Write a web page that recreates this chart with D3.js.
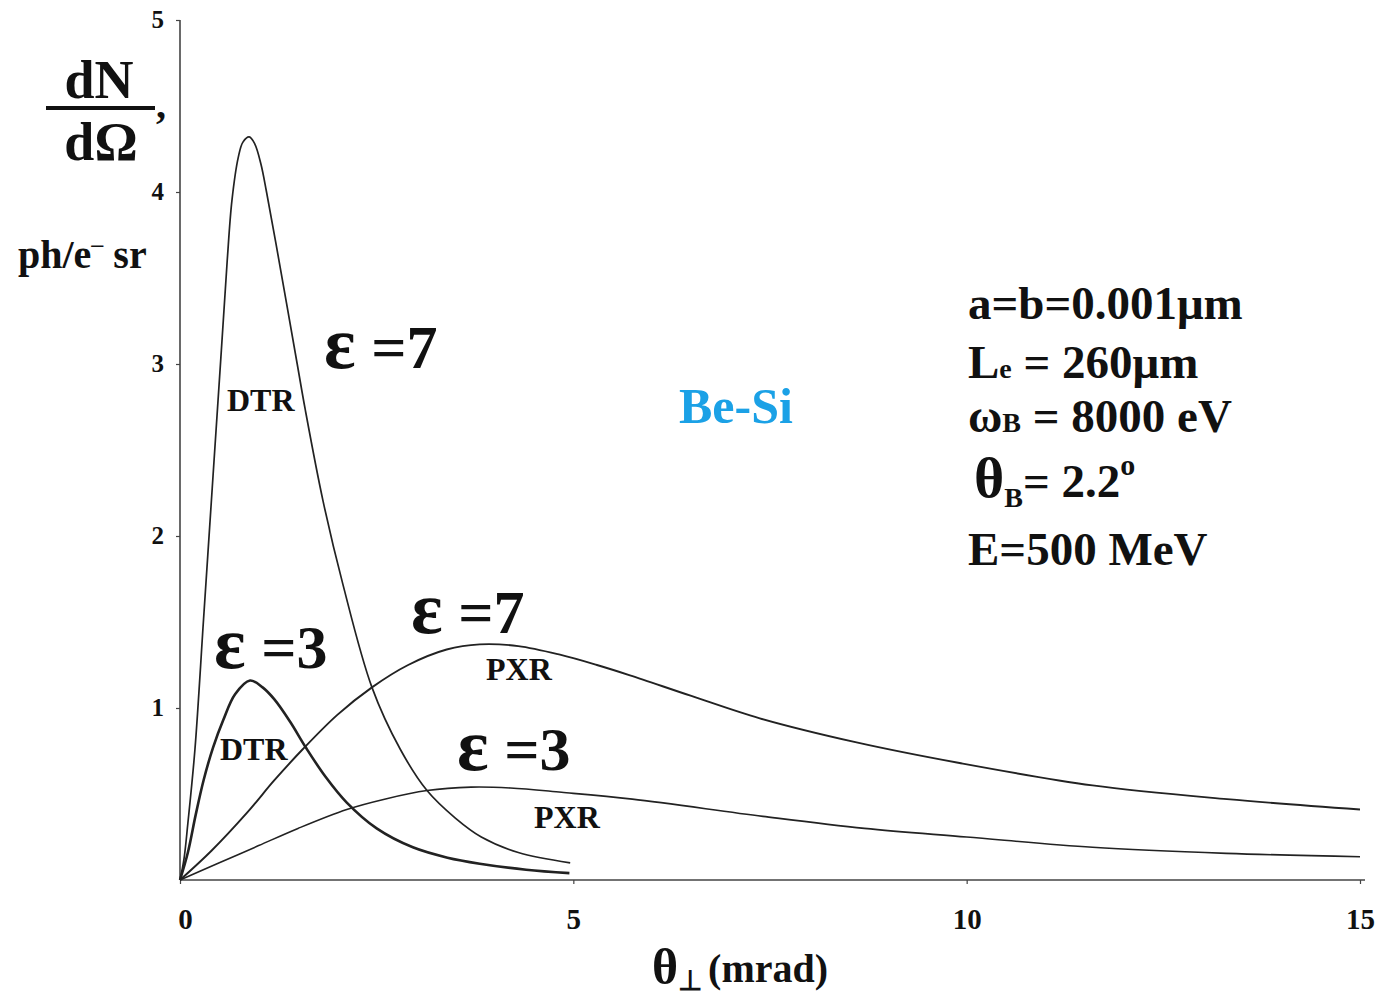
<!DOCTYPE html>
<html>
<head>
<meta charset="utf-8">
<script src="https://cdn.jsdelivr.net/npm/d3@7"></script>
<style>
  body { margin: 0; background: #fff; }
  text { font-family: "Liberation Serif", "Times New Roman", serif; font-weight: bold; fill: #111; }
</style>
</head>
<body>
<div id="chart"></div>
<script>
// curve points: [theta (mrad), dN/dOmega]
var dtr7 = [[0,0],[0.05,0.12],[0.1,0.33],[0.19,0.76],[0.3,1.52],[0.42,2.35],[0.52,3.04],[0.6,3.6],
  [0.66,3.95],[0.74,4.2],[0.8,4.29],[0.88,4.32],[0.95,4.28],[1.03,4.16],[1.1,4.0],[1.22,3.7],
  [1.49,3.0],[1.59,2.74],[1.82,2.2],[2.07,1.72],[2.44,1.12],[2.8,0.76],[3.14,0.52],[3.5,0.36],
  [3.83,0.25],[4.3,0.16],[4.96,0.1]];
var dtr3 = [[0,0],[0.1,0.16],[0.2,0.38],[0.3,0.58],[0.42,0.77],[0.55,0.93],[0.7,1.08],[0.89,1.16],
  [1.05,1.12],[1.2,1.05],[1.4,0.92],[1.6,0.77],[1.85,0.6],[2.12,0.45],[2.5,0.3],[2.96,0.19],[3.4,0.13],
  [3.81,0.095],[4.4,0.06],[4.95,0.04]];
var pxr7 = [[0,0],[0.4,0.17],[0.85,0.39],[1.2,0.58],[1.56,0.76],[2,0.96],[2.44,1.12],[2.9,1.25],
  [3.39,1.34],[3.81,1.37],[4.3,1.36],[4.83,1.31],[5.3,1.25],[5.72,1.19],[6.5,1.07],[7.37,0.94],[8.6,0.8],
  [9.91,0.68],[11.6,0.55],[13.31,0.47],[15,0.41]];
var pxr3 = [[0,0],[0.5,0.1],[1,0.2],[1.5,0.3],[2.12,0.41],[2.6,0.47],[3.14,0.52],[3.7,0.54],
  [4.2,0.535],[4.85,0.51],[5.75,0.47],[7.41,0.37],[8.7,0.3],[10,0.25],[11.6,0.19],[13.3,0.155],[15,0.135]];

var xTicks = [0, 5, 10, 15];
var yTicks = [1, 2, 3, 4, 5];
var params = ["a=b=0.001\u03bcm", "L|e| = 260\u03bcm", "\u03c9|B| = 8000 eV", "\u03b8|B|= 2.2|o", "E=500 MeV"];

var W = 1381, H = 997;
var svg = d3.select("#chart").append("svg")
    .attr("width", W)
    .attr("height", H);

var x = d3.scaleLinear().domain([0, 15]).range([180, 1360]);
var y = d3.scaleLinear().domain([0, 5]).range([880, 20]);

// axes
var xAxis = svg.append("g")
    .attr("transform", "translate(0," + y(0) + ")")
    .call(d3.axisBottom(x).tickValues(xTicks).tickFormat(d3.format("d"))
      .tickSize(4).tickSizeOuter(0).tickPadding(24));
var yAxis = svg.append("g")
    .attr("transform", "translate(" + x(0) + ",0)")
    .call(d3.axisLeft(y).tickValues(yTicks).tickFormat(d3.format("d"))
      .tickSize(4).tickSizeOuter(0).tickPadding(12));

[xAxis, yAxis].forEach(function(a) {
  a.select(".domain").attr("stroke", "#444").attr("stroke-width", 1.6);
  a.selectAll(".tick line").attr("stroke", "#444").attr("stroke-width", 1.2);
  a.selectAll(".tick text")
    .attr("font-family", '"Liberation Serif", serif')
    .attr("font-weight", "bold")
    .attr("fill", "#111");
});
xAxis.selectAll(".tick text").style("font-size", "29px");
yAxis.selectAll(".tick text").style("font-size", "25px").attr("dy", "0.3em");
xAxis.select(".domain").attr("d", "M" + x(0) + ",0H" + (x(15) + 5));
xAxis.selectAll(".tick text").filter(function(d) { return d === 0; }).attr("dx", 5);
yAxis.select(".domain").attr("d", "M0," + y(0) + "V" + y(5));

// curves
var line = d3.line()
    .x(function(d) { return x(d[0]); })
    .y(function(d) { return y(d[1]); })
    .curve(d3.curveCatmullRom.alpha(0.5));

var series = [
  { pts: dtr7, w: 1.7 },
  { pts: dtr3, w: 2.6 },
  { pts: pxr7, w: 1.9 },
  { pts: pxr3, w: 1.6 }
];
svg.append("g").selectAll("path")
  .data(series)
  .enter().append("path")
    .attr("d", function(d) { return line(d.pts); })
    .attr("fill", "none")
    .attr("stroke", "#222")
    .attr("stroke-width", function(d) { return d.w; })
    .attr("stroke-linejoin", "round");

// y-axis label: dN/dOmega, ph/e- sr
svg.append("text").attr("x", 99).attr("y", 98).attr("text-anchor", "middle")
  .style("font-size", "54px").text("dN");
svg.append("line").attr("x1", 46).attr("x2", 155).attr("y1", 108).attr("y2", 108)
  .attr("stroke", "#111").attr("stroke-width", 4);
svg.append("text").attr("x", 101).attr("y", 160).attr("text-anchor", "middle")
  .style("font-size", "54px").text("d\u03a9");
svg.append("text").attr("x", 156).attr("y", 118).style("font-size", "40px").text(",");
var ph = svg.append("text").attr("x", 18).attr("y", 268).style("font-size", "40px");
ph.append("tspan").text("ph/e");
ph.append("tspan").attr("dy", -16).style("font-size", "24px").text("\u2013");
ph.append("tspan").attr("dy", 16).text(" sr");

// x-axis label
var xl = svg.append("text").attr("x", 652).attr("y", 984);
xl.append("tspan").style("font-size", "50px").text("\u03b8");
xl.append("tspan").attr("dy", 6).style("font-size", "28px").text("\u22a5");
xl.append("tspan").attr("dy", -8).attr("dx", 6).style("font-size", "40px").text("(mrad)");

// curve annotations
var eps = [
  { e: "\u03b5", v: " =7", x: 324, y: 368 },
  { e: "\u03b5", v: " =3", x: 214, y: 668 },
  { e: "\u03b5", v: " =7", x: 411, y: 633 },
  { e: "\u03b5", v: " =3", x: 457, y: 770 }
];
var epsText = svg.append("g").selectAll("text").data(eps).enter().append("text")
  .attr("x", function(d) { return d.x; })
  .attr("y", function(d) { return d.y; });
epsText.append("tspan").style("font-size", "74px").text(function(d) { return d.e; });
epsText.append("tspan").style("font-size", "62px").text(function(d) { return d.v; });

var tags = [
  { t: "DTR", x: 227, y: 411 },
  { t: "DTR", x: 220, y: 760 },
  { t: "PXR", x: 486, y: 680 },
  { t: "PXR", x: 534, y: 828 }
];
svg.append("g").selectAll("text").data(tags).enter().append("text")
  .attr("x", function(d) { return d.x; })
  .attr("y", function(d) { return d.y; })
  .style("font-size", "32px")
  .text(function(d) { return d.t; });

svg.append("text").attr("x", 679).attr("y", 423)
  .style("font-size", "50px").style("fill", "#1ba1e6").text("Be-Si");

// parameter block; "|" splits main text / small subscript / rest
var py = [319, 378, 432, 497, 565];
params.forEach(function(p, i) {
  var parts = p.split("|");
  var t = svg.append("text").attr("x", 968).attr("y", py[i]).style("font-size", "47px");
  if (parts.length === 1) { t.text(p); return; }
  if (i === 3) {
    t.attr("x", 974);
    t.append("tspan").style("font-size", "58px").text(parts[0]);
    t.append("tspan").attr("dy", 10).style("font-size", "28px").text(parts[1]);
    t.append("tspan").attr("dy", -10).text(parts[2]);
    t.append("tspan").attr("dy", -22).style("font-size", "30px").text(parts[3]);
  } else {
    t.append("tspan").text(parts[0]);
    t.append("tspan").style("font-size", "28px").text(parts[1]);
    t.append("tspan").text(parts[2]);
  }
});
</script>
</body>
</html>
